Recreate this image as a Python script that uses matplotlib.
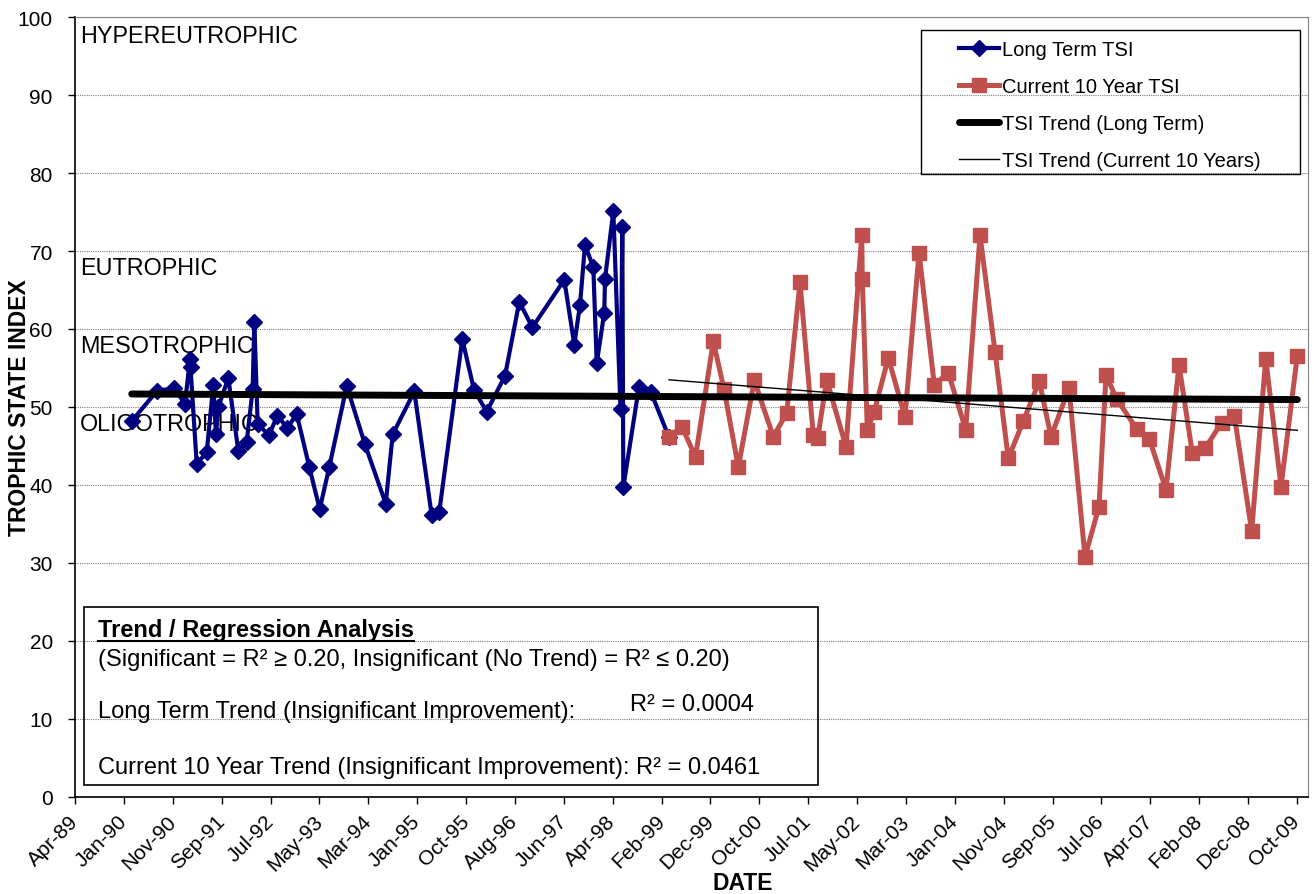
import numpy as np
import matplotlib.pyplot as plt
from matplotlib.patches import Rectangle
from matplotlib.lines import Line2D
from matplotlib.transforms import IdentityTransform, blended_transform_factory

plt.rcParams['font.family'] = ['Liberation Sans', 'DejaVu Sans']

# sample dates (decimal years) and trophic state index
long_x = [1990.203, 1990.633, 1990.919, 1991.098, 1991.182, 1991.191, 1991.295,
          1991.463, 1991.574, 1991.619, 1991.658, 1991.826, 1991.994, 1992.135,
          1992.236, 1992.263, 1992.320, 1992.510, 1992.650, 1992.818, 1992.976,
          1993.187, 1993.362, 1993.523, 1993.816, 1994.123, 1994.471, 1994.589,
          1994.952, 1995.244, 1995.372, 1995.758, 1995.955, 1996.168, 1996.476,
          1996.716, 1996.935, 1997.472, 1997.640, 1997.736, 1997.820, 1997.960,
          1998.017, 1998.144, 1998.156, 1998.296, 1998.417, 1998.447, 1998.464,
          1998.727, 1998.929, 1999.232]
long_y = [48.2, 52.1, 52.4, 50.4, 56.2, 55.1, 42.7,
          44.2, 52.8, 46.5, 50.0, 53.7, 44.4, 45.5,
          52.3, 60.9, 47.8, 46.4, 48.9, 47.3, 49.1,
          42.3, 36.9, 42.3, 52.7, 45.2, 37.6, 46.5,
          52.0, 36.1, 36.6, 58.7, 52.2, 49.4, 54.0,
          63.5, 60.2, 66.3, 58.0, 63.1, 70.8, 67.9,
          55.6, 62.1, 66.4, 75.1, 49.7, 73.1, 39.7,
          52.6, 51.9, 46.1]

cur_x = [1999.232, 1999.445, 1999.677, 1999.976, 2000.156, 2000.396, 2000.665,
         2000.984, 2001.209, 2001.433, 2001.656, 2001.730, 2001.882, 2002.206,
         2002.470, 2002.480, 2002.564, 2002.676, 2002.917, 2003.197, 2003.433,
         2003.690, 2003.925, 2004.217, 2004.458, 2004.710, 2004.933, 2005.185,
         2005.454, 2005.651, 2005.953, 2006.222, 2006.457, 2006.575, 2006.755,
         2007.091, 2007.303, 2007.583, 2007.802, 2008.025, 2008.239, 2008.519,
         2008.731, 2009.023, 2009.259, 2009.516, 2009.790]
cur_y = [46.1, 47.5, 43.6, 58.4, 52.3, 42.3, 53.4,
         46.2, 49.2, 66.0, 46.4, 46.0, 53.5, 44.9,
         72.0, 66.4, 47.1, 49.3, 56.3, 48.7, 69.8,
         52.8, 54.4, 47.1, 72.0, 57.1, 43.4, 48.2,
         53.3, 46.2, 52.4, 30.8, 37.2, 54.1, 51.0,
         47.2, 45.9, 39.4, 55.4, 44.1, 44.7, 48.0,
         48.9, 34.1, 56.2, 39.8, 56.6]

tick_labels = ['Apr-89', 'Jan-90', 'Nov-90', 'Sep-91', 'Jul-92', 'May-93', 'Mar-94',
               'Jan-95', 'Oct-95', 'Aug-96', 'Jun-97', 'Apr-98', 'Feb-99', 'Dec-99',
               'Oct-00', 'Jul-01', 'May-02', 'Mar-03', 'Jan-04', 'Nov-04', 'Sep-05',
               'Jul-06', 'Apr-07', 'Feb-08', 'Dec-08', 'Oct-09']
zone_names = ['HYPEREUTROPHIC', 'EUTROPHIC', 'MESOTROPHIC', 'OLIGOTROPHIC']
zone_y = [97.6, 67.9, 57.9, 47.9]

W, H = 1314, 895
fig = plt.figure(figsize=(W / 100, H / 100), dpi=100)
ax = fig.add_axes([75 / W, 1 - 798 / H, (1308 - 75) / W, (798 - 18) / H])

# excel date axis: major unit of 300 days
x0 = 1989.25
ticks = [x0 + i * 300 / 365.25 for i in range(len(tick_labels))]
ax.set_xlim(x0, x0 + 1233 * 0.016804)
ax.set_ylim(0, 100)

ax.plot(long_x, long_y, color='#000080', lw=3, marker='D', ms=8.5, label='Long Term TSI', zorder=3)
ax.plot(cur_x, cur_y, color='#C0504D', lw=3.6, marker='s', ms=10, label='Current 10 Year TSI', zorder=4)

# trend lines (linear least squares)
all_x = np.array(long_x[:-1] + cur_x)
all_y = np.array(long_y[:-1] + cur_y)
p = np.polyfit(all_x, all_y, 1)
xx = np.array([all_x.min(), all_x.max()])
ax.plot(xx, np.polyval(p, xx), color='black', lw=5, solid_capstyle='round',
        label='TSI Trend (Long Term)', zorder=5)
p2 = np.polyfit(cur_x, cur_y, 1)
xx2 = np.array([min(cur_x), max(cur_x)])
ax.plot(xx2, np.polyval(p2, xx2), color='black', lw=1, label='TSI Trend (Current 10 Years)', zorder=5)

ax.set_xticks(ticks)
ax.set_xticklabels(tick_labels, rotation=45, ha='right', va='center', rotation_mode='anchor')
ax.set_yticks(range(0, 101, 10))
ax.tick_params(axis='both', labelsize=15, direction='out', length=5, width=1)
ax.tick_params(axis='x', pad=10)
ax.tick_params(axis='y', pad=11)
ax.yaxis.grid(True, color='#7f7f7f', ls=(0, (1, 1)), lw=0.8)
ax.set_axisbelow(True)
for s in ['top', 'right']:
    ax.spines[s].set_color('#808080')
for s in ['left', 'bottom']:
    ax.spines[s].set_linewidth(1.2)

trans = blended_transform_factory(ax.transAxes, ax.transData)
for name, yv in zip(zone_names, zone_y):
    ax.text(0.004, yv, name, transform=trans, fontsize=16.8, va='center', ha='left', zorder=2)

ax.set_ylabel('TROPHIC STATE INDEX', fontsize=16.5, fontweight='bold', va='center')
ax.yaxis.set_label_coords((20 - 75) / 1233, 0.5)
fig.text(743 / W, 1 - 884 / H, 'DATE', fontsize=16.5, fontweight='bold', ha='center', va='center')

# legend with its own frame
leg = ax.legend(loc='upper left', bbox_to_anchor=(943 / W, 1 - 25 / H), bbox_transform=fig.transFigure,
                frameon=False, fontsize=14.5, handlelength=2.0, handletextpad=0.15,
                labelspacing=0.9, borderpad=0.3)
fig.add_artist(Rectangle((921 / W, 1 - 175 / H), (1300 - 921) / W, (175 - 31) / H,
                         transform=fig.transFigure, fill=False, ec='black', lw=1))

# regression text box
fig.add_artist(Rectangle((84 / W, 1 - 786 / H), (818 - 84) / W, (786 - 608) / H,
                         transform=fig.transFigure, fill=False, ec='black', lw=1.2))
box_font = ['Liberation Sans Narrow', 'Liberation Sans', 'DejaVu Sans']
t_title = fig.text(98 / W, 1 - 631 / H, 'Trend / Regression Analysis', fontsize=17, fontweight='bold',
                   family=box_font, va='center')
fig.text(98 / W, 1 - 660 / H, '(Significant = R² ≥ 0.20, Insignificant (No Trend) = R² ≤ 0.20)',
         fontsize=17, family=box_font, va='center')
fig.text(98 / W, 1 - 712 / H, 'Long Term Trend (Insignificant Improvement):', fontsize=17,
         family=box_font, va='center')
fig.text(630 / W, 1 - 705 / H, 'R² = 0.0004', fontsize=17, family=box_font, va='center')
fig.text(98 / W, 1 - 768 / H, 'Current 10 Year Trend (Insignificant Improvement): R² = 0.0461',
         fontsize=17, family=box_font, va='center')

fig.canvas.draw()
bb = t_title.get_window_extent(fig.canvas.get_renderer())
fig.add_artist(Line2D([bb.x0, bb.x1], [bb.y0 + 1, bb.y0 + 1], transform=IdentityTransform(),
                      color='black', lw=1.5))

fig.savefig('out.png', dpi=100)
